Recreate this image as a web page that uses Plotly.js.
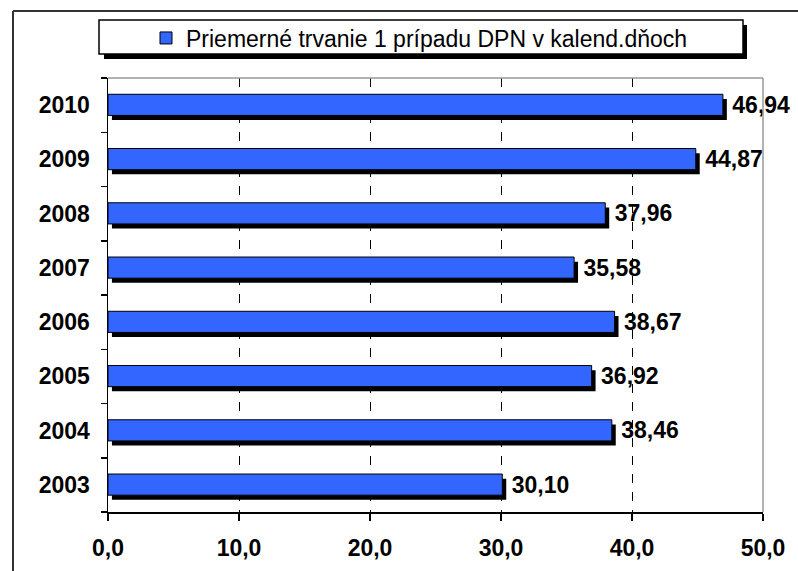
<!DOCTYPE html>
<html>
<head>
<meta charset="utf-8">
<script src="https://cdn.plot.ly/plotly-3.0.1.min.js"></script>
<style>html,body{margin:0;padding:0;background:#fff;}#chart{width:798px;height:571px;}</style>
</head>
<body>
<div id="chart"></div>
<script>
const years = ['2003', '2004', '2005', '2006', '2007', '2008', '2009', '2010'];
const values = [30.10, 38.46, 36.92, 38.67, 35.58, 37.96, 44.87, 46.94];
const seriesName = 'Priemerné trvanie 1 prípadu DPN v kalend.dňoch';
const xTicks = [0, 10, 20, 30, 40, 50];

const W = 798, H = 571, L = 108, R = 35, T = 78, B = 59;
const PW = W - L - R, PH = H - T - B;
const px = x => (x - L) / PW;
const py = y => (H - B - y) / PH;
const FONT = '"Liberation Sans", Arial, sans-serif';
const BLUE = '#3366FF';

const shadow = {
  type: 'bar', orientation: 'h', y: years, x: values, base: 0.3,
  width: 0.39, offset: -0.275,
  marker: {color: '#000000', line: {width: 0}},
  showlegend: false, hoverinfo: 'skip'
};
const bars = {
  type: 'bar', orientation: 'h', y: years, x: values, name: seriesName,
  width: 0.39, offset: -0.19,
  marker: {color: BLUE, line: {color: '#000000', width: 1}},
  texttemplate: '\u00a0%{x:.2f}', textposition: 'outside', cliponaxis: false,
  constraintext: 'none',
  textfont: {family: FONT, size: 23, weight: 'bold', color: '#000'}
};

const layout = {
  width: W, height: H,
  margin: {l: L, r: R, t: T, b: B, pad: 0},
  paper_bgcolor: '#ffffff', plot_bgcolor: '#ffffff',
  separators: ', ',
  barmode: 'overlay',
  font: {family: FONT, color: '#000'},
  showlegend: true,
  legend: {
    orientation: 'h', x: px(146), xanchor: 'left', y: py(38), yanchor: 'middle',
    bgcolor: 'rgba(0,0,0,0)', borderwidth: 0,
    font: {family: FONT, size: 23, color: '#000'}
  },
  xaxis: {
    range: [0, 50], tickvals: xTicks, tickformat: '.1f',
    showgrid: true, gridcolor: '#000', griddash: 'dash', gridwidth: 1,
    zeroline: false, showline: true, linecolor: '#000', linewidth: 1.5,
    ticks: 'outside', ticklen: 7, tickcolor: '#000', tickwidth: 1.5,
    ticklabelstandoff: 8,
    tickfont: {family: FONT, size: 23, weight: 'bold', color: '#000'},
    fixedrange: true
  },
  yaxis: {
    type: 'category', categoryorder: 'array', categoryarray: years,
    range: [-0.5, 7.5],
    showgrid: false, zeroline: false, showline: true, linecolor: '#000', linewidth: 1.5,
    ticks: 'outside', tickson: 'boundaries', ticklen: 6, tickcolor: '#000', tickwidth: 1.5,
    ticklabelstandoff: 12,
    tickfont: {family: FONT, size: 23, weight: 'bold', color: '#000'},
    fixedrange: true
  },
  shapes: [
    // outer chart frame (extends past the right and bottom edges)
    {type: 'line', xref: 'paper', yref: 'paper', x0: px(13), x1: px(805), y0: py(11), y1: py(11), line: {color: '#333', width: 2}},
    {type: 'line', xref: 'paper', yref: 'paper', x0: px(13), x1: px(13), y0: py(11), y1: py(580), line: {color: '#333', width: 2}},
    // plot area gray border (top and right)
    {type: 'line', xref: 'paper', yref: 'paper', x0: 0, x1: 1, y0: 1, y1: 1, line: {color: '#999', width: 1.5}, layer: 'above'},
    {type: 'line', xref: 'paper', yref: 'paper', x0: 1, x1: 1, y0: 0, y1: 1, line: {color: '#999', width: 1.5}, layer: 'above'},
    // legend box shadow and box
    {type: 'rect', xref: 'paper', yref: 'paper', x0: px(104), x1: px(747), y0: py(25), y1: py(59), fillcolor: '#000', line: {width: 0}, layer: 'above'},
    {type: 'rect', xref: 'paper', yref: 'paper', x0: px(99), x1: px(743), y0: py(20), y1: py(54), fillcolor: '#fff', line: {color: '#000', width: 1.5}, layer: 'above'}
  ]
};

Plotly.newPlot('chart', [shadow, bars], layout, {staticPlot: true, displayModeBar: false});
</script>
</body>
</html>
